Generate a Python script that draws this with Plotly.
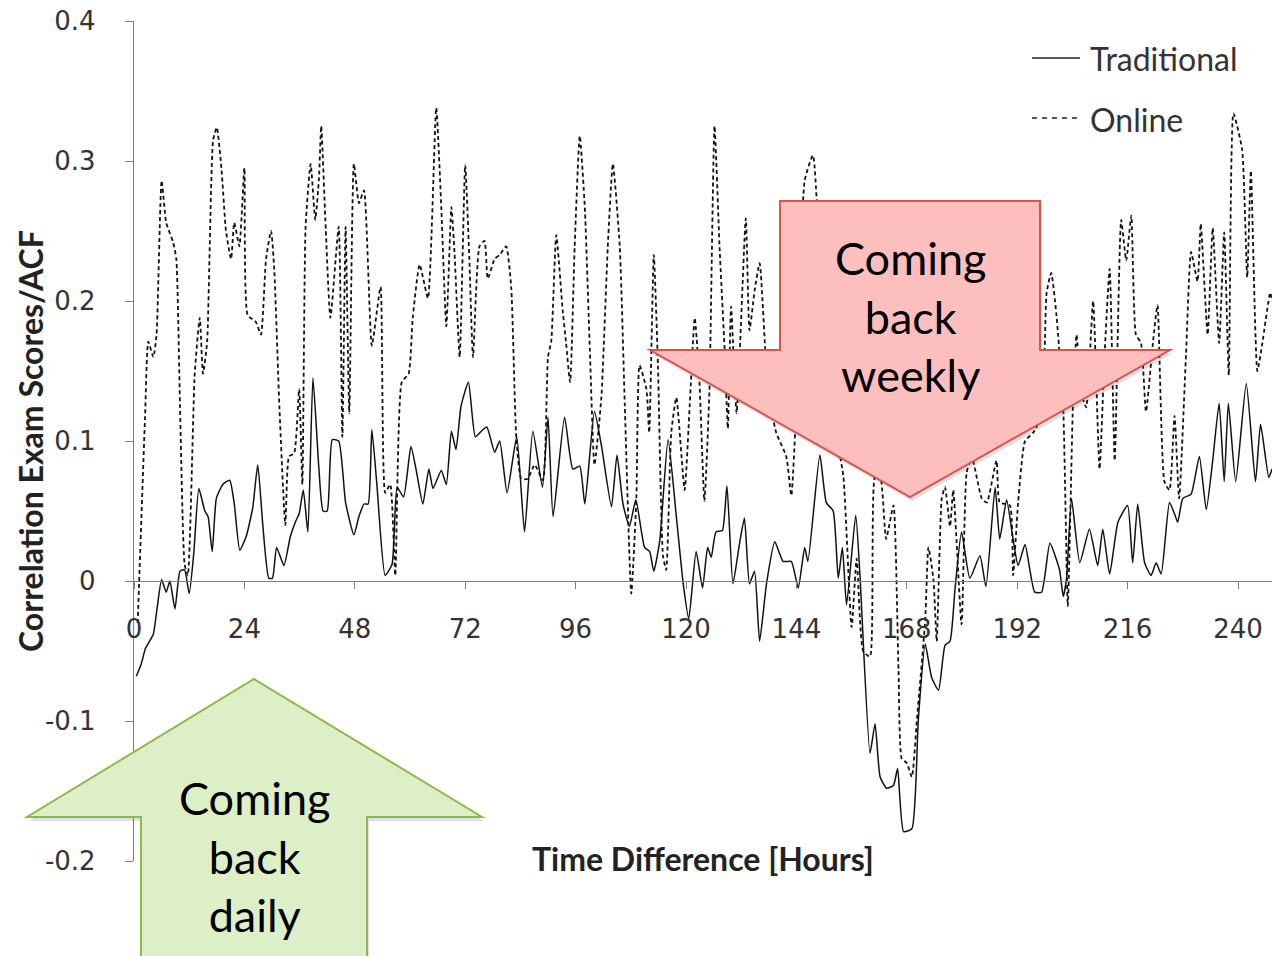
import plotly.graph_objects as go

# ---------------- data ----------------
trad_hours = [0.5, 1.5, 2.5, 3.2, 4.2, 5.0, 6.0, 7.0, 7.8, 8.9, 10.0, 11.0, 12.0, 13.0, 14.1, 15.4, 16.1, 17.0,
              17.9, 19.3, 20.8, 21.8, 23.0, 24.4, 25.8, 26.9, 28.0, 29.3, 30.1, 31.0, 32.6, 34.0, 35.2, 35.9,
              36.8, 37.8, 38.9, 40.2, 41.1, 42.0, 43.1, 44.5, 46.0, 47.8, 48.9, 50.0, 50.9, 51.7, 52.8, 54.6,
              56.1, 57.2, 58.6, 60.2, 61.3, 62.8, 64.1, 65.0, 66.8, 67.9, 69.0, 70.0, 71.1, 72.7, 74.2, 75.5,
              76.7, 78.4, 79.5, 81.1, 83.2, 84.9, 86.7, 88.8, 90.0, 91.1, 93.6, 95.4, 96.9, 98.0, 100.1, 101.6,
              103.8, 105.0, 106.3, 107.7, 109.1, 111.0, 112.1, 113.0, 114.3, 116.1, 117.9, 119.4, 120.6, 122.2,
              123.6, 124.7, 125.5, 126.5, 127.9, 128.9, 130.2, 131.6, 132.7, 133.8, 134.9, 136.0, 137.5, 139.3,
              141.1, 142.9, 144.4, 145.8, 146.5, 149.1, 150.5, 152.0, 153.1, 154.0, 154.9, 156.9, 157.8, 160.0,
              161.1, 162.2, 163.6, 165.1, 166.0, 167.3, 169.1, 170.5, 172.0, 173.4, 174.9, 176.3, 177.4, 178.5,
              179.9, 181.7, 183.9, 185.2, 187.2, 188.2, 189.7, 191.1, 192.2, 193.7, 195.8, 197.3, 199.1, 201.2,
              202.0, 202.7, 203.8, 205.6, 207.7, 209.5, 210.6, 212.1, 213.9, 216.0, 217.1, 218.2, 219.7, 221.1,
              222.2, 223.3, 225.1, 226.2, 226.9, 228.0, 229.8, 231.6, 233.1, 234.5, 235.9, 237.0, 237.9, 239.5,
              241.8, 243.8, 244.9, 246.7, 247.4]
trad_values = [-0.068, -0.06, -0.048, -0.044, -0.038, -0.02, 0.001, -0.008, 0.0, -0.02, 0.007, 0.008, -0.009,
               0.02, 0.066, 0.05, 0.046, 0.021, 0.059, 0.069, 0.072, 0.055, 0.022, 0.032, 0.052, 0.083, 0.04,
               0.002, 0.002, 0.024, 0.011, 0.032, 0.043, 0.048, 0.065, 0.035, 0.145, 0.08, 0.05, 0.05, 0.101,
               0.1, 0.056, 0.033, 0.046, 0.055, 0.055, 0.108, 0.069, 0.004, 0.012, 0.067, 0.06, 0.096, 0.08,
               0.055, 0.08, 0.066, 0.079, 0.069, 0.107, 0.094, 0.125, 0.142, 0.103, 0.107, 0.11, 0.092, 0.1,
               0.063, 0.103, 0.035, 0.107, 0.067, 0.117, 0.046, 0.117, 0.08, 0.082, 0.055, 0.121, 0.097, 0.053,
               0.09, 0.055, 0.039, 0.058, 0.024, 0.021, 0.007, 0.029, 0.101, 0.046, -0.002, -0.027, 0.021,
               -0.005, 0.024, 0.017, 0.035, 0.036, 0.068, -0.002, 0.026, 0.045, -0.002, 0.007, -0.043, -0.002,
               0.028, 0.014, 0.014, -0.005, 0.024, 0.014, 0.09, 0.056, 0.05, 0.002, 0.024, -0.017, 0.047, 0.005,
               -0.123, -0.102, -0.14, -0.148, -0.146, -0.134, -0.179, -0.177, -0.099, -0.045, -0.069, -0.078,
               -0.046, -0.043, -0.005, 0.035, 0.002, 0.018, -0.004, 0.067, 0.03, 0.058, 0.03, 0.011, 0.026,
               -0.008, -0.008, 0.027, 0.008, -0.011, 0.001, 0.059, 0.013, 0.037, 0.011, 0.037, 0.005, 0.042,
               0.054, 0.013, 0.055, 0.013, 0.004, 0.013, 0.005, 0.056, 0.048, 0.042, 0.059, 0.062, 0.089, 0.051,
               0.086, 0.127, 0.071, 0.127, 0.071, 0.141, 0.071, 0.112, 0.074, 0.08]

online_hours = [0.8, 2.4, 3.1, 4.2, 4.9, 6.0, 7.0, 8.5, 9.2, 10.0, 11.0, 11.7, 13.2, 14.3, 15.0, 15.9, 17.2,
                18.0, 19.0, 20.0, 21.1, 21.8, 22.9, 24.0, 24.7, 26.5, 27.6, 28.7, 29.8, 30.5, 31.6, 32.9, 33.7,
                34.8, 35.9, 36.6, 37.3, 38.4, 39.4, 40.2, 40.7, 41.6, 42.7, 44.5, 45.3, 46.0, 46.8, 47.8, 48.9,
                50.0, 51.7, 53.6, 54.6, 55.7, 56.8, 58.2, 59.7, 60.6, 62.1, 63.9, 65.7, 66.8, 67.9, 69.0, 69.7,
                70.8, 72.0, 72.9, 73.7, 75.1, 76.2, 76.9, 78.4, 79.5, 80.9, 82.0, 83.1, 84.2, 85.6, 87.1, 88.9,
                90.0, 90.7, 91.8, 93.2, 93.9, 94.8, 95.8, 96.9, 98.0, 99.1, 100.1, 101.6, 103.0, 104.1, 105.6,
                106.7, 108.1, 109.2, 109.9, 111.4, 112.0, 113.0, 113.9, 115.0, 115.7, 116.8, 117.9, 119.7, 120.8,
                121.9, 122.9, 124.0, 125.1, 126.2, 127.3, 128.4, 129.1, 129.8, 131.0, 133.0, 133.8, 134.9, 136.0,
                137.8, 139.6, 141.8, 142.9, 144.0, 145.8, 147.6, 149.1, 150.5, 152.4, 154.2, 156.0, 157.1, 158.5,
                160.0, 161.1, 162.2, 163.5, 165.1, 166.2, 166.9, 168.0, 169.1, 170.2, 172.0, 172.7, 173.8, 174.5,
                175.6, 176.3, 177.4, 178.1, 179.9, 181.0, 182.1, 184.3, 185.4, 187.5, 188.2, 190.4, 191.1, 192.2,
                193.7, 195.5, 197.3, 198.4, 199.4, 200.5, 202.0, 203.0, 204.1, 204.9, 205.9, 207.0, 208.5, 209.9,
                211.0, 212.1, 213.2, 214.6, 215.7, 216.8, 217.8, 218.9, 220.0, 221.5, 222.5, 224.0, 225.1, 226.2,
                227.2, 228.7, 229.8, 231.2, 231.9, 233.4, 234.5, 235.9, 237.0, 238.0, 239.0, 240.9, 242.0, 242.8,
                244.2, 245.3, 247.0, 247.4]
online_values = [-0.03, 0.117, 0.171, 0.16, 0.176, 0.286, 0.256, 0.242, 0.23, 0.125, 0.012, 0.004, 0.148, 0.188,
                 0.148, 0.171, 0.315, 0.324, 0.295, 0.25, 0.23, 0.256, 0.239, 0.295, 0.19, 0.185, 0.176, 0.23,
                 0.25, 0.222, 0.125, 0.04, 0.089, 0.091, 0.137, 0.069, 0.253, 0.298, 0.258, 0.287, 0.325, 0.258,
                 0.188, 0.253, 0.103, 0.253, 0.12, 0.298, 0.27, 0.279, 0.168, 0.21, 0.063, 0.069, 0.004, 0.142,
                 0.148, 0.188, 0.226, 0.202, 0.338, 0.267, 0.182, 0.267, 0.233, 0.16, 0.297, 0.23, 0.16, 0.239,
                 0.243, 0.216, 0.23, 0.233, 0.239, 0.21, 0.103, 0.073, 0.073, 0.083, 0.072, 0.16, 0.171, 0.247,
                 0.193, 0.171, 0.142, 0.239, 0.318, 0.267, 0.165, 0.083, 0.131, 0.239, 0.298, 0.239, 0.125,
                 -0.009, 0.058, 0.154, 0.137, 0.106, 0.233, 0.154, 0.018, 0.008, 0.106, 0.131, 0.065, 0.125,
                 0.188, 0.144, 0.057, 0.137, 0.325, 0.238, 0.165, 0.109, 0.196, 0.12, 0.259, 0.179, 0.207, 0.227,
                 0.137, 0.106, 0.089, 0.061, 0.127, 0.286, 0.304, 0.227, 0.158, 0.109, 0.075, -0.033, 0.016,
                 -0.05, -0.054, 0.075, 0.075, 0.03, 0.054, -0.064, -0.127, -0.13, -0.14, -0.099, -0.028, 0.024,
                 0.001, -0.043, 0.059, 0.067, 0.039, 0.065, -0.031, 0.077, 0.089, 0.059, 0.056, 0.086, 0.056,
                 0.054, 0.004, 0.056, 0.1, 0.106, 0.118, 0.206, 0.22, 0.191, 0.124, -0.018, 0.124, 0.176, 0.135,
                 0.124, 0.2, 0.08, 0.162, 0.223, 0.086, 0.258, 0.229, 0.261, 0.176, 0.17, 0.121, 0.17, 0.197,
                 0.071, 0.065, 0.118, 0.059, 0.162, 0.235, 0.214, 0.255, 0.176, 0.252, 0.17, 0.249, 0.147, 0.334,
                 0.308, 0.217, 0.293, 0.15, 0.17, 0.206, 0.2]

x_ticks = [0, 24, 48, 72, 96, 120, 144, 168, 192, 216, 240]
y_ticks = [0.4, 0.3, 0.2, 0.1, 0.0, -0.1, -0.2]
y_tick_labels = ["0.4", "0.3", "0.2", "0.1", "0", "-0.1", "-0.2"]
series_names = ["Traditional", "Online"]

# ---------------- layout geometry (pixels of a 1272x956 page) ----------------
W, H = 1272, 956
ML, MR, MT, MB = 134, 0, 21, 95
PW, PH = W - ML - MR, H - MT - MB


def px(xp):
    return (xp - ML) / PW


def py(yp):
    return (H - MB - yp) / PH


def poly(points, dx=0, dy=0):
    return "M " + " L ".join(f"{px(a + dx):.5f},{py(b + dy):.5f}" for a, b in points) + " Z"


TEXT_FONT = "Lato, 'Open Sans', sans-serif"
TICK_FONT = "'DejaVu Sans', Verdana, sans-serif"
AXIS_COLOR = "#7f7f7f"

fig = go.Figure()
fig.add_trace(go.Scatter(x=trad_hours, y=trad_values, mode="lines", name=series_names[0],
                         line=dict(color="#111111", width=1.5, shape="spline", smoothing=0.5),
                         showlegend=False))
fig.add_trace(go.Scatter(x=online_hours, y=online_values, mode="lines", name=series_names[1],
                         line=dict(color="#111111", width=1.8, dash="4px,3px", shape="spline", smoothing=0.5),
                         showlegend=False))

shapes = []
green = [(254, 679), (482, 817), (367, 817), (367, 960), (141, 960), (141, 817), (27, 817)]
red = [(780, 201), (1040, 201), (1040, 350), (1170, 350), (910, 497), (650, 350), (780, 350)]
# soft shadows
for pts in (green, red):
    shapes.append(dict(type="path", xref="paper", yref="paper", path=poly(pts, 2, 4),
                       fillcolor="rgba(0,0,0,0.12)", line=dict(width=0), layer="above"))
# green "daily" arrow (pointing up)
shapes.append(dict(type="path", xref="paper", yref="paper", path=poly(green),
                   fillcolor="#ddefc6", line=dict(color="#8fb94a", width=2), layer="above"))
# red "weekly" arrow (pointing down)
shapes.append(dict(type="path", xref="paper", yref="paper", path=poly(red),
                   fillcolor="#fdbebe", line=dict(color="#d9534f", width=2), layer="above"))
# custom legend samples
shapes.append(dict(type="line", xref="paper", yref="paper", x0=px(1032), x1=px(1080), y0=py(58), y1=py(58),
                   line=dict(color="#222222", width=1.5)))
shapes.append(dict(type="line", xref="paper", yref="paper", x0=px(1032), x1=px(1080), y0=py(118), y1=py(118),
                   line=dict(color="#222222", width=1.5, dash="5px,5px")))


def ann(text, x, y, size, color="#000000", xanchor="center", angle=0):
    return dict(text=text, x=px(x), y=py(y), xref="paper", yref="paper", xanchor=xanchor, yanchor="middle",
                textangle=angle, showarrow=False, align="center",
                font=dict(family=TEXT_FONT, size=size, color=color))


annotations = [
    ann("Coming<br>back<br>daily", 254, 856, 45),
    ann("Coming<br>back<br>weekly", 910, 316, 45),
    ann("Traditional", 1088, 59, 32, "#333333", "left"),
    ann("Online", 1088, 119, 32, "#333333", "left"),
    ann("<b>Time Difference [Hours]</b>", 703, 858, 32, "#222222"),
    ann("<b>Correlation Exam Scores/ACF</b>", 30, 441, 32, "#222222", "center", -90),
]

fig.update_layout(
    width=W, height=H,
    margin=dict(l=ML, r=MR, t=MT, b=MB, pad=0),
    paper_bgcolor="white", plot_bgcolor="white",
    showlegend=False,
    shapes=shapes, annotations=annotations,
    xaxis=dict(range=[0, PW / 4.6], tickvals=x_ticks, ticktext=[str(v) for v in x_ticks],
               showgrid=False, zeroline=False, showline=True, linecolor=AXIS_COLOR, linewidth=1.3,
               ticks="outside", ticklen=7, tickcolor=AXIS_COLOR, tickwidth=1.3,
               anchor="free", position=(0 - (-0.2)) / 0.6, ticklabelstandoff=18,
               tickfont=dict(family=TICK_FONT, size=26, color="#333333")),
    yaxis=dict(range=[-0.2, 0.4], tickvals=y_ticks, ticktext=y_tick_labels,
               showgrid=False, zeroline=False, showline=True, linecolor=AXIS_COLOR, linewidth=1.3,
               ticks="outside", ticklen=8, tickcolor=AXIS_COLOR, tickwidth=1.3, ticklabelstandoff=24,
               tickfont=dict(family=TICK_FONT, size=26, color="#333333")),
)

fig.write_html("out.html")
